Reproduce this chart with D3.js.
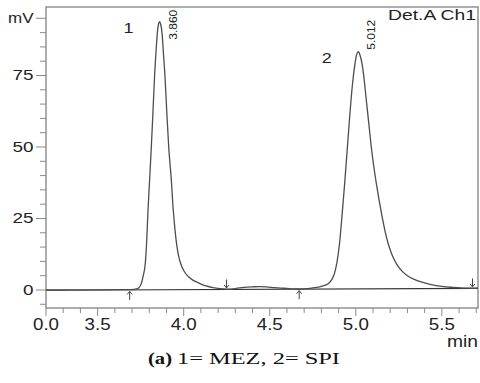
<!DOCTYPE html>
<html><head><meta charset="utf-8">
<script src="https://cdn.jsdelivr.net/npm/d3@7"></script>
<style>body{margin:0;background:#fff}svg{display:block}</style>
</head><body>
<svg id="c" width="480" height="383"></svg>
<script>
// ---- data ----
const timeMin = [3.20,3.30,3.40,3.50,3.60,3.68,3.72,3.74,3.754,3.765,3.777,3.785,3.792,3.802,3.812,3.822,3.831,3.840,3.847,3.854,3.860,3.866,3.874,3.882,3.891,3.902,3.913,3.928,3.938,3.948,3.958,3.970,3.985,4.000,4.020,4.045,4.070,4.100,4.130,4.170,4.210,4.250,4.30,4.35,4.40,4.44,4.48,4.53,4.58,4.63,4.67,4.72,4.76,4.80,4.84,4.860,4.875,4.890,4.905,4.920,4.935,4.950,4.965,4.980,4.995,5.005,5.015,5.025,5.035,5.045,5.060,5.075,5.090,5.105,5.120,5.135,5.150,5.165,5.180,5.200,5.220,5.240,5.270,5.300,5.340,5.380,5.420,5.460,5.500,5.550,5.600,5.650,5.710];
const signalMV = [0.0,0.0,0.05,0.05,0.1,0.1,0.3,0.8,2.3,5,9.4,17,27,38.5,50,63,75,84,90,93,93.8,93,90,83,75,62,50,38.5,29,22,16.5,12,8.8,6.8,5.1,3.8,2.9,2.1,1.4,0.8,0.45,0.3,0.5,0.9,1.1,1.2,1.1,0.8,0.6,0.4,0.35,0.5,0.8,1.3,2.2,3.6,5.6,9.5,16,26,37,49,61,71.5,79,82.3,83.3,82,79.5,75.5,67,58.5,50,43,37,31.5,26.5,22,18,14,11,8.8,6.5,5.0,3.7,2.8,2.1,1.6,1.25,0.95,0.78,0.65,0.6];
const baselineT = [3.2, 5.71];
const baselineV = [-0.1, 0.55];
const markerT = [3.686, 4.249, 4.671, 5.678];
const markerDir = ["up", "down", "up", "down"];
const peakNums = ["1", "2"];
const peakRT = ["3.860", "5.012"];
const peakTimes = [3.860, 5.012];
const peakHeights = [93.8, 83.3];
const xTickVals = [3.2, 3.5, 4.0, 4.5, 5.0, 5.5];
const xTickLabels = ["0.0", "3.5", "4.0", "4.5", "5.0", "5.5"];
const yTickVals = [0, 25, 50, 75, 95];
const yTickLabels = ["0", "25", "50", "75", "mV"];

// ---- layout ----
const L = 46, R = 478, T = 7, B = 308;
const svg = d3.select("#c");
const x = d3.scaleLinear().domain([3.2, 5.71]).range([L, R]);
const y = d3.scaleLinear().domain([-6.3, 98.95]).range([B, T]);
const axisCol = "#8a8a8a";

// frame
svg.append("rect").attr("x", L).attr("y", T).attr("width", R - L).attr("height", B - T)
  .attr("fill", "none").attr("stroke", axisCol).attr("stroke-width", 1.4);

// y axis ticks
const yMinor = d3.range(-5, 96, 5);
svg.append("g").selectAll("line").data(yMinor).join("line")
  .attr("x1", d => yTickVals.includes(d) ? L - 10 : L - 6).attr("x2", L)
  .attr("y1", d => y(d)).attr("y2", d => y(d))
  .attr("stroke", axisCol).attr("stroke-width", 1);
const yLen = {"0": 10.5, "25": 21, "50": 21, "75": 21, "mV": 25.5};
svg.append("g").selectAll("text").data(yTickVals).join("text")
  .attr("x", 33.5).attr("y", d => y(d) + 5)
  .attr("text-anchor", "end")
  .attr("font-family", "Liberation Sans, Arial, sans-serif").attr("font-size", 14)
  .attr("fill", "#222")
  .attr("textLength", (d, i) => yLen[yTickLabels[i]])
  .attr("lengthAdjust", "spacingAndGlyphs")
  .text((d, i) => yTickLabels[i]);

// x axis ticks
const xMinor = d3.range(32, 58, 1).map(v => v / 10);
svg.append("g").selectAll("line").data(xMinor).join("line")
  .attr("x1", d => x(d)).attr("x2", d => x(d))
  .attr("y1", B).attr("y2", d => xTickVals.some(v => Math.abs(v - d) < 1e-6) ? B + 8 : B + 5)
  .attr("stroke", axisCol).attr("stroke-width", 1);
svg.append("g").selectAll("text").data(xTickVals).join("text")
  .attr("x", d => x(d)).attr("y", 330)
  .attr("text-anchor", "middle")
  .attr("font-family", "Liberation Sans, Arial, sans-serif").attr("font-size", 16)
  .attr("fill", "#222")
  .attr("textLength", 26).attr("lengthAdjust", "spacingAndGlyphs")
  .text((d, i) => xTickLabels[i]);
svg.append("text").attr("x", 478).attr("y", 347).attr("text-anchor", "end")
  .attr("font-family", "Liberation Sans, Arial, sans-serif").attr("font-size", 16)
  .attr("fill", "#222").attr("textLength", 31).attr("lengthAdjust", "spacingAndGlyphs")
  .text("min");

// baseline
svg.append("line")
  .attr("x1", x(baselineT[0])).attr("y1", y(baselineV[0]))
  .attr("x2", x(baselineT[1])).attr("y2", y(baselineV[1]))
  .attr("stroke", "#333").attr("stroke-width", 1.1);

// signal
const pts = timeMin.map((t, i) => [t, signalMV[i]]);
svg.append("path").datum(pts)
  .attr("d", d3.line().x(d => x(d[0])).y(d => y(d[1])).curve(d3.curveMonotoneX))
  .attr("fill", "none").attr("stroke", "#4d4d4d").attr("stroke-width", 1.3);

// integration markers
const bl = t => baselineV[0] + (baselineV[1] - baselineV[0]) * (t - baselineT[0]) / (baselineT[1] - baselineT[0]);
markerT.forEach((t, i) => {
  const px = x(t), py = y(bl(t));
  const g = svg.append("g").attr("stroke", "#444").attr("stroke-width", 1).attr("fill", "none");
  if (markerDir[i] === "up") {
    g.append("line").attr("x1", px).attr("x2", px).attr("y1", py + 1.5).attr("y2", py + 10);
    g.append("path").attr("d", `M${px - 2.5},${py + 4.5} L${px},${py + 1.5} L${px + 2.5},${py + 4.5}`);
  } else {
    g.append("line").attr("x1", px).attr("x2", px).attr("y1", py - 10).attr("y2", py - 1.5);
    g.append("path").attr("d", `M${px - 2.5},${py - 4.5} L${px},${py - 1.5} L${px + 2.5},${py - 4.5}`);
  }
});

// peak numbers
const numOff = [[-31, 11], [-31, 11.5]];
peakTimes.forEach((t, i) => {
  svg.append("text").attr("x", x(t) + numOff[i][0]).attr("y", y(peakHeights[i]) + numOff[i][1])
    .attr("text-anchor", "middle")
    .attr("font-family", "Liberation Sans, Arial, sans-serif").attr("font-size", 14)
    .attr("fill", "#222").attr("textLength", 10).attr("lengthAdjust", "spacingAndGlyphs")
    .text(peakNums[i]);
});
// retention times (rotated)
const rtOff = [[17, 18], [17, -2]];
peakTimes.forEach((t, i) => {
  const px = x(t) + rtOff[i][0], py = y(peakHeights[i]) + rtOff[i][1];
  svg.append("text").attr("transform", `translate(${px},${py}) rotate(-90)`)
    .attr("x", 0).attr("y", 0)
    .attr("font-family", "Liberation Sans, Arial, sans-serif").attr("font-size", 11.5)
    .attr("fill", "#222").attr("textLength", 30).attr("lengthAdjust", "spacingAndGlyphs")
    .text(peakRT[i]);
});

// detector label
svg.append("text").attr("x", 476).attr("y", 20).attr("text-anchor", "end")
  .attr("font-family", "Liberation Sans, Arial, sans-serif").attr("font-size", 14)
  .attr("fill", "#222").attr("textLength", 88).attr("lengthAdjust", "spacingAndGlyphs")
  .text("Det.A Ch1");

// caption
svg.append("text").attr("x", 148).attr("y", 364)
  .attr("font-family", "Liberation Serif, Times New Roman, serif").attr("font-size", 16)
  .attr("font-weight", "bold").attr("fill", "#111")
  .attr("textLength", 24).attr("lengthAdjust", "spacingAndGlyphs")
  .text("(a)");
svg.append("text").attr("x", 177).attr("y", 364)
  .attr("font-family", "Liberation Serif, Times New Roman, serif").attr("font-size", 16)
  .attr("fill", "#111")
  .attr("textLength", 163).attr("lengthAdjust", "spacingAndGlyphs")
  .text("1= MEZ, 2= SPI");
</script>
</body></html>
